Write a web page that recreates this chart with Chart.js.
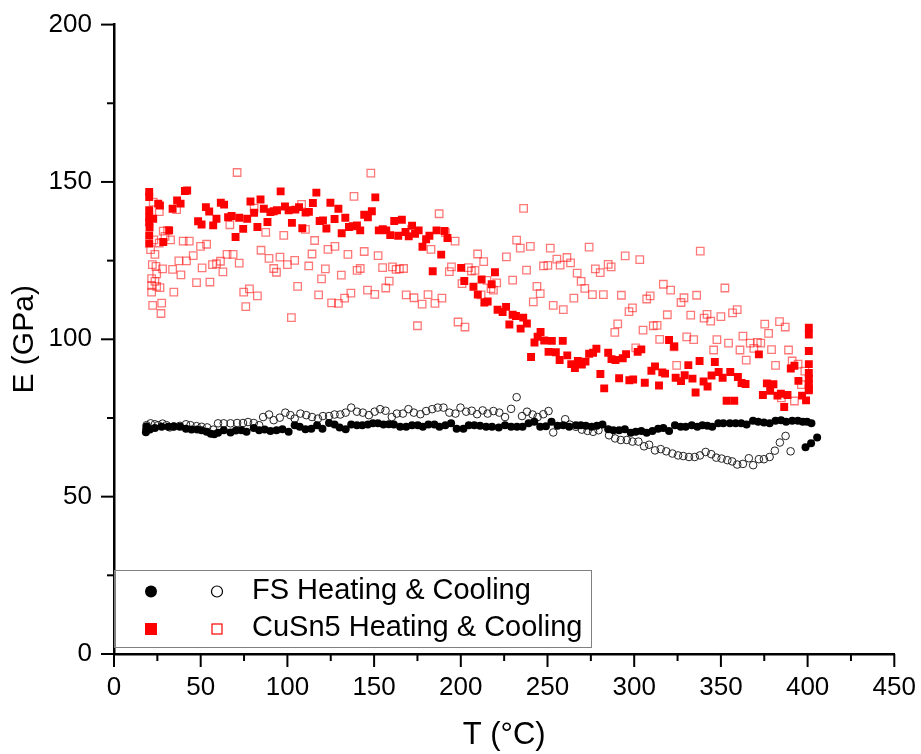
<!DOCTYPE html>
<html>
<head>
<meta charset="utf-8">
<script src="https://cdn.jsdelivr.net/npm/chart.js@4.4.1/dist/chart.umd.min.js"></script>
<style>
    html, body { margin: 0; padding: 0; background: #fff; }
    #wrap { width: 921px; height: 754px; position: relative; }
</style>
</head>
<body>
<div id="wrap"><canvas id="modulus-chart"></canvas></div>
<script>
// FS heating (filled circles)
const fsHeatT = [18.4, 18.6, 18.8, 20.7, 23.6, 27.5, 31.3, 34.5, 38, 41.5, 44.7, 48, 50.5, 53.4, 55.8, 57.8, 60, 63.3, 67.2, 70.3, 73.5, 76.4, 80.6, 83.7, 86.9, 90.2, 93.7, 97.1, 100.7, 104.2, 107.1, 110.4, 113.8, 117.1, 120.2, 124, 127.2, 130.1, 133.6, 136.8, 140.1, 143.2, 146.4, 149.3, 152.2, 155.4, 158.5, 161.4, 165, 168.5, 171.9, 175.2, 178.1, 181.3, 184.8, 187.7, 191.1, 194.4, 197.6, 201.5, 204.6, 207.8, 211.1, 214.6, 218, 221.9, 225.5, 229, 232.4, 235.6, 239.1, 242.4, 245.8, 249.1, 252.3, 255.8, 259.1, 262.5, 266.4, 269.2, 272.1, 275.4, 278.5, 281.7, 285, 288, 291.3, 294.6, 298, 300.9, 304.1, 307.2, 310.5, 313.8, 316.8, 320.1, 323.5, 326.8, 329.7, 333.2, 336.4, 339.3, 342.2, 345, 348.5, 351.4, 355.2, 358.5, 361.7, 364.8, 368.5, 371.5, 374.8, 378.1, 381.5, 384.7, 387.6, 391.1, 394.4, 397.2, 399.7, 402.2, 398.8, 402, 405.5];
const fsHeatE = [70.5, 71.5, 72.3, 71.3, 71.8, 72.2, 72.2, 72.4, 72.2, 71.6, 71.3, 71.3, 71.1, 70.6, 70, 69.8, 70.3, 71.1, 70.4, 71, 71.1, 70.6, 71.8, 71.1, 71.3, 70.9, 71.1, 71.4, 70.6, 72.7, 72.2, 71.4, 71.6, 72.7, 71.6, 73.4, 72.9, 72, 71.4, 72.9, 72.7, 72.7, 72.9, 73.3, 73.3, 72.9, 73, 72.9, 72.2, 72.2, 72.7, 72.7, 72.2, 72.9, 72.9, 72.2, 72.7, 73.3, 71.6, 71.6, 72.7, 72.7, 72.5, 72.2, 72.2, 72, 72.7, 72.2, 72.2, 72.2, 73.3, 73.8, 72.2, 72.4, 73.8, 72.5, 72.7, 72.2, 72.7, 72.7, 72.5, 72.2, 72.5, 72.9, 71.4, 71.1, 71.1, 71.4, 70.3, 70.6, 70.9, 70.3, 70.9, 71.6, 71.8, 70.9, 72.7, 72.2, 72.2, 72.7, 72.2, 72.7, 72.5, 72.2, 73.3, 73.3, 73.3, 73.3, 73.3, 72.9, 74.1, 73.8, 73.6, 73.3, 74.1, 74.3, 73.8, 74.1, 74.1, 73.8, 73.8, 73.3, 65.7, 67, 68.8];

// FS cooling (open circles)
const fsCoolT = [18.8, 21.1, 23.6, 25.5, 28, 30.3, 32.2, 34.5, 38, 41.5, 44.1, 47.6, 50.5, 53.7, 57.2, 60, 63.3, 67.2, 71, 74.4, 77.3, 80.6, 83.7, 86, 89.4, 92.1, 95.6, 98.8, 101.7, 104.2, 107.5, 110.9, 114.2, 117.6, 120.5, 124, 127.2, 130.5, 133.6, 136.8, 140.1, 143.5, 147, 150.3, 153.5, 156.6, 160.2, 163.1, 166.6, 169.8, 172.9, 176.7, 180, 183.5, 186.7, 190, 193.4, 196.9, 199.8, 203.1, 206.3, 209.4, 212.6, 215.5, 218.8, 222.2, 225.5, 229, 232.2, 235.3, 238.2, 241.4, 244.3, 247.6, 250.6, 253.3, 260.2, 262.9, 266.4, 269.8, 273.1, 276.3, 279.4, 285.5, 289, 292.3, 295.7, 299, 302.4, 305.7, 308.6, 312, 315.3, 318.5, 322, 325.3, 328.3, 331.6, 334.9, 337.9, 341.2, 344.4, 347.3, 350.4, 353.7, 356.5, 359.4, 362.7, 366.1, 368.6, 371.9, 374.8, 378.1, 381.1, 384, 387.3, 390.2];
const fsCoolE = [72.7, 73.3, 73, 72.7, 73.2, 72.7, 72, 72.2, 72.5, 73, 72.7, 72.4, 72.2, 72, 71.3, 73.3, 73.3, 73.3, 73.4, 73.4, 73.7, 73.4, 72.7, 75.3, 76.1, 74.3, 75.1, 76.7, 75.9, 74.8, 76.4, 75.9, 75.3, 74.8, 75.6, 75.6, 76.1, 76.1, 76.7, 78.3, 77, 76.7, 75.9, 77, 77.8, 77.3, 75.3, 76.4, 76.4, 77.8, 76.7, 76.2, 77.2, 77.8, 78.3, 78.3, 76.7, 76.4, 78.3, 77, 77.3, 76.2, 77.4, 76.4, 77.2, 76.7, 75.3, 77.9, 81.6, 75.6, 77, 76.1, 75.3, 76.2, 77.2, 70.4, 74.6, 72.9, 72.2, 71.3, 70.9, 70.6, 71.1, 69.5, 68.5, 68, 68, 67.5, 67.5, 66, 66.5, 64.7, 65.1, 64.4, 63.7, 63.1, 62.9, 62.6, 62.6, 63.1, 64.2, 63.5, 62.4, 62.1, 61.6, 61.2, 60.2, 60.4, 62.2, 60, 61.9, 61.9, 62.6, 64.6, 67.2, 69.3, 64.4];

// CuSn5 heating (filled squares)
const cuHeatT = [20.3, 20.3, 20.3, 20.3, 20.3, 20.5, 20.3, 20.3, 22.6, 25.5, 26.5, 28.4, 31.8, 33.8, 36.4, 38.4, 40.9, 42.2, 48.5, 50.5, 53, 54.9, 57.2, 59.1, 61.6, 63.5, 65.8, 67.8, 70.1, 72.2, 74.5, 76.8, 78.7, 80.8, 82.7, 84.5, 86.4, 88.5, 90.2, 92.1, 94, 96.1, 98.6, 100.7, 102.6, 104.6, 106.7,
    108.6, 110.5, 112.4, 114.7, 116.7, 118.6, 120.5, 122.5, 124.8, 127.2, 129.4, 131.3, 133.4, 135.5, 137.8, 140.1, 142, 144.3, 146.4, 148.7, 150.7, 152.7, 155, 157, 159.3, 161.6, 163.9, 166, 168.1, 170, 171.9, 173.6, 175.7, 177.9, 180, 181.9, 183.8, 186, 188.7, 190.6, 192.3, 200.2, 202, 207.3, 209.8, 212, 213.6, 215.5,
    219.7, 217.8, 221.2, 224.1, 226.1, 229.9, 231.8, 228, 236, 238.1, 234.5, 246, 244.3, 242.5, 248.1, 252.5, 258.8, 240.5, 250.6, 254.8, 257, 261.4, 263.7, 265.8, 267.5, 269.8, 271.9, 274, 276.3, 278.2, 280.5, 282.7, 285, 286.9, 289.2, 293.4, 295.3, 291.3, 297.2, 299.4, 302, 304.1, 306.1, 309.9, 312, 314.3, 316.2, 317.8, 320.1, 323.9,
    323, 327, 329.1, 331.2, 333.6, 335.4, 337.7, 340, 342.3, 344.6, 346.5, 348.7, 351, 353.3, 355.4, 357.7, 359.8, 361.9, 364.2, 371.9, 374.2, 376.5, 378.4, 380.3, 382.6, 384.6, 386.5, 388.4, 390.3, 392.4, 394.7, 396.8, 399.1, 400.7, 400.7, 400.7, 400.7, 400.7, 400.7, 400.7, 400.7, 400.7];
const cuHeatE = [146.8, 145.2, 141, 138.8, 137.2, 135.6, 133, 130.4, 138.3, 143.1, 142.5, 130.9, 134.6, 141.5, 144.1, 143.1, 147.1, 147.3, 137.5, 136.5, 142, 140.6, 136.2, 138.3, 143.4, 142.8, 138.8, 139.2, 132.5, 138.6, 135.1, 138.3, 143.8, 140.2, 135.7, 144.4, 141.5, 137.3, 140.4, 140.7, 141, 147, 142.2, 141, 137, 141.2, 142,
    135.3, 140.3, 140.5, 143.3, 146.6, 137.6, 137.8, 135.2, 143.4, 138.2, 141.5, 133.7, 138.6, 135.7, 135.9, 136.2, 134.6, 139.6, 138.8, 140.7, 145.1, 134.6, 135, 134.6, 133.1, 137.6, 132.9, 138, 134.1, 132.7, 136.1, 133.5, 134.6, 129.4, 131.8, 132.9, 121.6, 134.6, 126.9, 134.4, 132.2, 122.7, 118.5, 116.7, 114.2, 119, 111.7, 112,
    121.3, 117.5, 109.4, 108.7, 110.3, 107.8, 107.4, 104.7, 106.9, 105, 103.4, 102.3, 100.8, 99, 99.6, 99.5, 99.5, 94.4, 96, 95.9, 93.4, 94.9, 92.1, 90.9, 93.1, 92, 92.9, 95.4, 95.7, 97, 89, 84.4, 95.7, 93.7, 93.4, 94, 95.3, 87.6, 87, 87.2, 96, 96.8, 86.2, 90, 91.4, 85.3, 89.5, 89.1, 99.8, 87.8,
    97.7, 86.7, 88.6, 91.8, 87.5, 83.1, 93.1, 86.6, 85, 88.5, 92.8, 89.6, 87.8, 80.5, 89.6, 80.5, 88, 86.1, 85.8, 95.2, 82.3, 86, 83.6, 85.7, 82.1, 82.7, 78.5, 82.3, 90.7, 91.6, 86.8, 82.1, 80.6, 103.7, 101.5, 96.3, 92.1, 89.3, 87.5, 85.9, 84.3, 83.8];

// CuSn5 cooling (open squares)
const cuCoolT = [71, 22.6, 26.1, 36.1, 28.4, 30.9, 29.4, 23, 26.1, 32.6, 39.9, 43.4, 21.1, 23.6, 49.9, 53.4, 45.7, 37.4, 41.8, 22.1, 24.2, 28, 33.8, 38.6, 24.6, 21.7, 23.6, 21.7, 24.6, 26.5, 21.7, 34.5, 50.8, 56.8, 59.1, 61.4, 62.8, 65.2, 68.7, 72.2, 47.6, 55.3, 66.8, 80.8, 87.5, 97.9, 84.8, 89.4, 95.7, 104.2, 92.1, 93.7, 100, 74.8, 78.1, 82.7, 76, 22.3, 27.5, 27.1, 102.3, 105.9,
    148.1, 138.4, 108.2, 110.4, 115.7, 187.5, 171.6, 191.1, 196.7, 209.7, 213.2, 112.3, 114.2, 123.4, 127.4, 121.9, 119.7, 118, 131.1, 134.9, 140.2, 142, 144.3, 152.3, 154.9, 160.6, 162.7, 164.6, 167, 158.7, 156.7, 146.2, 150.4, 136.6, 133, 129.4, 125.5, 168.5, 173, 177.7, 181.1, 185.1, 189.1, 175, 198.4, 202.4, 194.6, 193.4, 204.4, 206.1, 208.2, 200.7, 211.7, 182.8,
    236.2, 232.2, 234.3, 240.1, 251.6, 274, 294.8, 303.2, 226.3, 255.4, 261.2, 263.3, 257.3, 247.7, 250.2, 237.9, 229.9, 220.7, 215.1, 217.4, 218.8, 243.9, 245.8, 241.8, 253.3, 259.1, 267.1, 269.4, 271.5, 265.2, 275.9, 282.2, 292.6, 277.6, 280.4, 285, 286.7, 307.2, 309.2, 299, 297, 316.8, 321, 319.1, 290.5, 288.8, 305.1, 311, 313.2, 314.7, 300.9, 323, 324.5,
    338.1, 352.3, 336, 328.7, 327, 332.6, 340.3, 342, 344.1, 350, 356.7, 359.4, 330.3, 334.3, 347.7, 354.4, 362.7, 345.8, 361, 364.6, 366.9, 369, 371, 373, 375.3, 377.5, 379.2, 381.5, 383.8, 387.1, 389, 391.1, 394.5, 398.4, 396.4, 392.4, 384.9];
const cuCoolE = [153, 143.6, 140.6, 141.2, 134.4, 134.6, 132.7, 131.6, 130.6, 131.6, 131.2, 131.2, 128.5, 127, 129.5, 130.2, 126.6, 124.9, 124.9, 123.7, 123.2, 122.4, 122.2, 120.5, 120.8, 119.3, 118.4, 117.1, 116.8, 116.4, 115, 115, 122.7, 123.7, 124, 124.8, 121.4, 127, 127, 124.2, 118, 118.2, 136.4, 141.7, 134, 133, 128.3, 125.7, 126.1, 125.1, 122.5, 121.3, 123.7, 115, 116, 113.8, 110.4, 110.8, 111.5, 108.2, 106.9, 116.8,
    152.8, 145.4, 142.9, 134.9, 131.4, 139.9, 134.9, 133.9, 131.2, 127.1, 124.7, 123.3, 127.1, 128.6, 129.5, 122.4, 119.2, 114.1, 120.4, 127, 121.9, 122.5, 127.9, 126.6, 122.8, 123, 122.2, 122.4, 122.5, 118.5, 116.3, 115.6, 114.3, 114.7, 113.1, 111.4, 111.6, 114.1, 113.2, 111.2, 114.2, 111.4, 113.1, 104.3, 105.5, 103.9, 123, 121.5, 122.8, 121.7, 121.9, 117.7, 114.1, 128.6,
    141.6, 131.5, 129, 129.5, 129, 129.3, 126.5, 125.3, 126.2, 125.5, 126, 124.3, 123.6, 123.3, 123.5, 122, 118.8, 117.9, 118.7, 116.1, 115.6, 116.8, 114.5, 111.9, 110.8, 109.4, 121, 118.4, 116.2, 113.1, 114.2, 114.2, 114, 122.4, 121.2, 123.8, 123, 112.8, 113.8, 110, 108.8, 117.5, 115.6, 107.8, 104.9, 102.2, 102.9, 104.3, 104.4, 100, 97.3, 97.6, 91.7,
    128, 116.3, 114, 113.2, 111.7, 107.7, 106.7, 107.9, 105.8, 107.2, 108.4, 109.4, 100.8, 99.9, 99.9, 98.8, 101, 96.6, 96.6, 93.4, 98.8, 97.1, 99, 98.8, 104.8, 101.9, 96.7, 91.7, 105.6, 103.9, 96.6, 93.1, 92.1, 89.9, 85.6, 80.4, 81.4];

// Axis ranges and ticks
const xTicks = [0, 50, 100, 150, 200, 250, 300, 350, 400, 450];
const yTicks = [0, 50, 100, 150, 200];
const legendRows = ['FS Heating & Cooling', 'CuSn5 Heating & Cooling'];

const FONT = "'Liberation Sans', Arial, sans-serif";

function toPoints(xs, ys) {
    return xs.map((x, i) => ({ x: x, y: ys[i] }));
}

// draws major/minor tick marks outward from both axes
const tickMarks = {
    id: 'tickMarks',
    afterDraw(chart) {
        const { ctx } = chart;
        const xs = chart.scales.x, ys = chart.scales.y;
        ctx.save();
        ctx.strokeStyle = '#000';
        ctx.lineWidth = 2;
        for (let i = 0; i < xTicks.length; i++) {
            const major = xs.getPixelForValue(xTicks[i]);
            ctx.beginPath(); ctx.moveTo(major, xs.top); ctx.lineTo(major, xs.top + 13); ctx.stroke();
            if (i < xTicks.length - 1) {
                const minor = xs.getPixelForValue((xTicks[i] + xTicks[i + 1]) / 2);
                ctx.beginPath(); ctx.moveTo(minor, xs.top); ctx.lineTo(minor, xs.top + 7); ctx.stroke();
            }
        }
        for (let i = 0; i < yTicks.length; i++) {
            const major = ys.getPixelForValue(yTicks[i]);
            ctx.beginPath(); ctx.moveTo(ys.right, major); ctx.lineTo(ys.right - 13, major); ctx.stroke();
            if (i < yTicks.length - 1) {
                const minor = ys.getPixelForValue((yTicks[i] + yTicks[i + 1]) / 2);
                ctx.beginPath(); ctx.moveTo(ys.right, minor); ctx.lineTo(ys.right - 7, minor); ctx.stroke();
            }
        }
        ctx.restore();
    }
};

// legend box: two symbols per row, one label
const pairLegend = {
    id: 'pairLegend',
    afterDraw(chart) {
        const { ctx, chartArea } = chart;
        const left = chartArea.left + 0.5, top = 570.5, w = 477, h = 77;
        ctx.save();
        ctx.strokeStyle = '#808080';
        ctx.lineWidth = 1;
        ctx.strokeRect(left, top, w, h);

        const c1 = 151, c2 = 217, r1 = 591.5, r2 = 629;
        ctx.fillStyle = '#000';
        ctx.beginPath(); ctx.arc(c1, r1, 6, 0, Math.PI * 2); ctx.fill();
        ctx.strokeStyle = '#000';
        ctx.lineWidth = 1.2;
        ctx.beginPath(); ctx.arc(c2, r1, 5.5, 0, Math.PI * 2); ctx.stroke();

        ctx.fillStyle = '#ff0000';
        ctx.fillRect(c1 - 6, r2 - 6, 12, 12);
        ctx.strokeStyle = '#ff0000';
        ctx.strokeRect(c2 - 5, r2 - 5, 10, 10);

        ctx.fillStyle = '#000';
        ctx.font = '29px ' + FONT;
        ctx.textBaseline = 'middle';
        ctx.textAlign = 'left';
        ctx.fillText(legendRows[0], 252, r1 - 1);
        ctx.fillText(legendRows[1], 252, r2 - 1);
        ctx.restore();
    }
};

document.addEventListener('DOMContentLoaded', () => {
    const canvas = document.getElementById('modulus-chart');
    new Chart(canvas, {
        type: 'scatter',
        data: {
            datasets: [{
                label: 'FS Heating',
                data: toPoints(fsHeatT, fsHeatE),
                pointStyle: 'circle',
                pointRadius: 4,
                backgroundColor: '#000',
                borderColor: '#000',
                borderWidth: 0
            }, {
                label: 'FS Cooling',
                data: toPoints(fsCoolT, fsCoolE),
                pointStyle: 'circle',
                pointRadius: 3.8,
                backgroundColor: 'rgba(0,0,0,0)',
                borderColor: '#222',
                borderWidth: 1
            }, {
                label: 'CuSn5 Heating',
                data: toPoints(cuHeatT, cuHeatE),
                pointStyle: 'rect',
                pointRadius: 5.6,
                backgroundColor: '#ff0000',
                borderColor: '#ff0000',
                borderWidth: 0
            }, {
                label: 'CuSn5 Cooling',
                data: toPoints(cuCoolT, cuCoolE),
                pointStyle: 'rect',
                pointRadius: 5.3,
                backgroundColor: 'rgba(255,255,255,0)',
                borderColor: 'rgba(255,30,30,0.6)',
                borderWidth: 1.3
            }]
        },
        options: {
            responsive: true,
            maintainAspectRatio: false,
            animation: false,
            layout: { padding: { top: 24, right: 24, left: 0, bottom: 0 } },
            plugins: {
                legend: { display: false },
                tooltip: { enabled: false }
            },
            scales: {
                x: {
                    type: 'linear',
                    min: 0,
                    max: 450,
                    afterFit: (scale) => { scale.height = 100; },
                    afterBuildTicks: (scale) => { scale.ticks = xTicks.map(v => ({ value: v })); },
                    grid: { display: false, drawTicks: true, tickLength: 13 },
                    border: { display: true, color: '#000', width: 2.5 },
                    ticks: {
                        color: '#000',
                        padding: 5,
                        maxRotation: 0,
                        font: { family: FONT, size: 26 }
                    },
                    title: {
                        display: true,
                        text: 'T (°C)',
                        color: '#000',
                        font: { family: FONT, size: 31, lineHeight: 1 },
                        padding: { top: 0, bottom: 3 }
                    }
                },
                y: {
                    type: 'linear',
                    min: 0,
                    max: 200,
                    afterFit: (scale) => { scale.width = 114; },
                    afterBuildTicks: (scale) => { scale.ticks = yTicks.map(v => ({ value: v })); },
                    grid: { display: false, drawTicks: true, tickLength: 13 },
                    border: { display: true, color: '#000', width: 2.5 },
                    ticks: {
                        color: '#000',
                        padding: 9,
                        font: { family: FONT, size: 26 }
                    },
                    title: {
                        display: true,
                        text: 'E (GPa)',
                        color: '#000',
                        font: { family: FONT, size: 30, lineHeight: 1 },
                        padding: { top: 10, bottom: 0 }
                    }
                }
            }
        },
        plugins: [tickMarks, pairLegend]
    });
});
</script>
</body>
</html>
